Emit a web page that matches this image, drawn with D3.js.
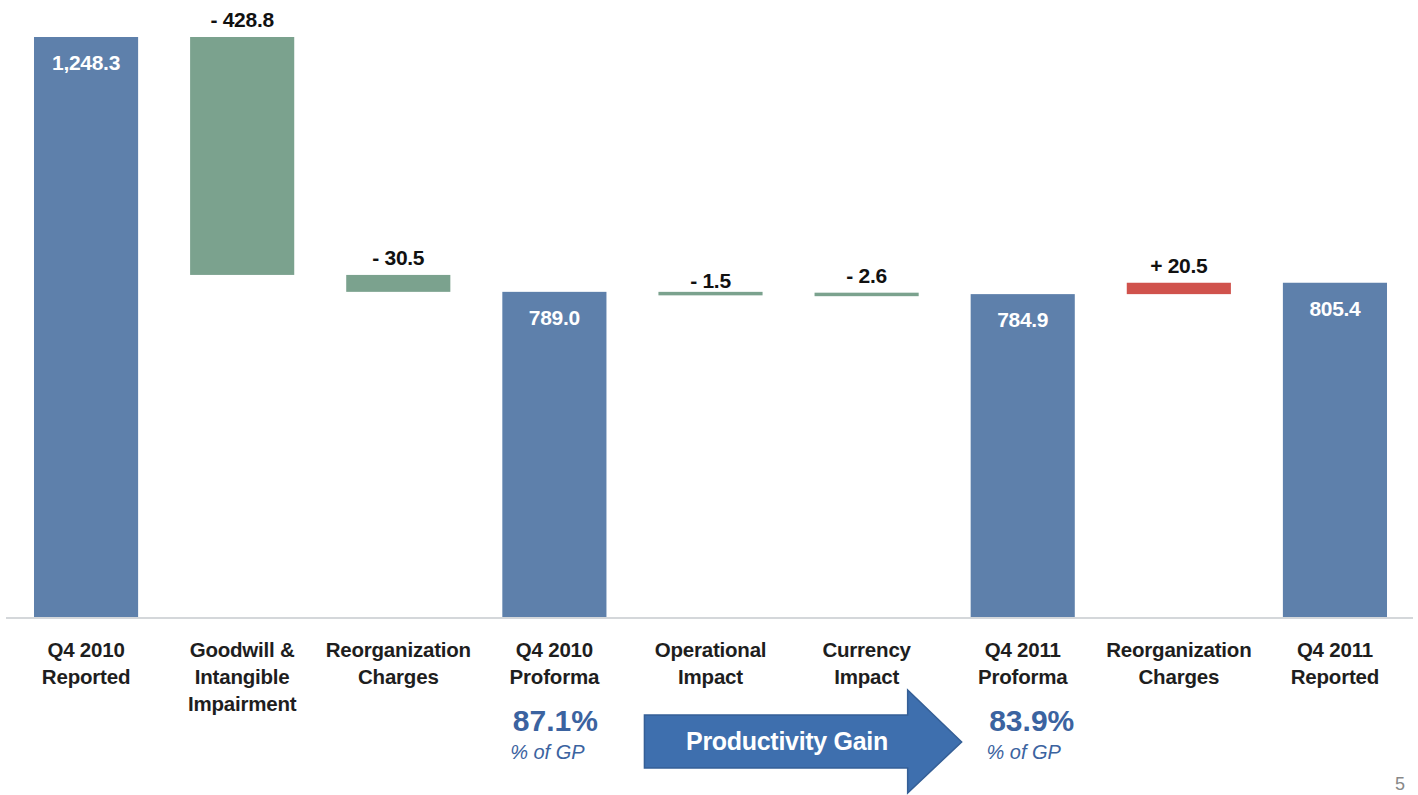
<!DOCTYPE html>
<html><head><meta charset="utf-8">
<script src="https://cdn.jsdelivr.net/npm/d3@7"></script>
<style>
html,body{margin:0;padding:0;background:#fff;}
svg{display:block;}
</style></head>
<body><svg id="chart" width="1418" height="795"></svg>
<script>
// ---- data ----
const categories = [
  ["Q4 2010","Reported"],
  ["Goodwill &","Intangible","Impairment"],
  ["Reorganization","Charges"],
  ["Q4 2010","Proforma"],
  ["Operational","Impact"],
  ["Currency","Impact"],
  ["Q4 2011","Proforma"],
  ["Reorganization","Charges"],
  ["Q4 2011","Reported"]
];
const stepTypes = ["total","delta","delta","total","delta","delta","total","delta","total"];
const stepValues = [1248.3, -428.8, -30.5, 789.0, -1.5, -2.6, 784.9, 20.5, 805.4];
const stepLabels = ["1,248.3","- 428.8","- 30.5","789.0","- 1.5","- 2.6","784.9","+ 20.5","805.4"];
const axisFloor = 203;
const gpPercents = [{cat:3, value:"87.1%", sub:"% of GP"},{cat:6, value:"83.9%", sub:"% of GP"}];
const arrowText = "Productivity Gain";
const pageNumber = "5";

// ---- build waterfall ----
let running = 0;
const bars = stepValues.map((v,i)=>{
  let start, end;
  if (stepTypes[i]==="total"){ start = axisFloor; end = v; running = v; }
  else { start = running; end = running + v; running = end; }
  return {i, type:stepTypes[i], value:v, start, end, label:stepLabels[i]};
});

const svg = d3.select("#chart");
const baseY = 617, topY = 37;
const x = d3.scaleBand().domain(d3.range(categories.length)).range([8,1413]).paddingInner(0.333).paddingOuter(0.1665);
const y = d3.scaleLinear().domain([axisFloor, d3.max(stepValues)]).range([baseY, topY]);

const colors = {total:"#5e80ab", neg:"#7ba28e", pos:"#d0524c"};
const font = "'Liberation Sans',Arial,sans-serif";

// axis line
svg.append("line").attr("x1",6).attr("x2",1413).attr("y1",baseY+1).attr("y2",baseY+1)
  .attr("stroke","#d4d7da").attr("stroke-width",2);

// bars
svg.selectAll("rect.bar").data(bars).join("rect").attr("class","bar")
  .attr("x",d=>x(d.i)).attr("width",x.bandwidth())
  .attr("y",d=>Math.min(y(d.start),y(d.end)))
  .attr("height",d=>Math.max(Math.abs(y(d.start)-y(d.end)), d.type==="delta"?3.5:0))
  .attr("fill",d=>d.type==="total"?colors.total:(d.value<0?colors.neg:colors.pos));

// value labels
svg.selectAll("text.val").data(bars).join("text").attr("class","val")
  .attr("x",d=>x(d.i)+x.bandwidth()/2)
  .attr("y",d=>{
    const top = Math.min(y(d.start),y(d.end));
    return d.type==="total" ? top+33 : top-(Math.abs(d.value)<2?4:10);
  })
  .attr("text-anchor","middle")
  .attr("font-family",font).attr("font-weight","bold").attr("font-size",21)
  .attr("letter-spacing",-0.3)
  .attr("fill",d=>d.type==="total"?"#ffffff":"#111")
  .text(d=>d.label);

// category labels
const cat = svg.selectAll("text.cat").data(categories).join("text").attr("class","cat")
  .attr("x",(d,i)=>x(i)+x.bandwidth()/2).attr("y",657)
  .attr("text-anchor","middle")
  .attr("font-family",font).attr("font-weight","bold").attr("font-size",20.5)
  .attr("letter-spacing",-0.2)
  .attr("fill","#1e1e1e");
cat.selectAll("tspan").data(d=>d).join("tspan")
  .attr("x",function(){return this.parentNode.getAttribute("x");})
  .attr("dy",(d,j)=>j===0?0:27).text(d=>d);

// % of GP
const gpDx = [1, 9];
gpPercents.forEach((g,k)=>{
  const cx = x(g.cat)+x.bandwidth()/2 + gpDx[k];
  svg.append("text").attr("x",cx).attr("y",731).attr("text-anchor","middle")
    .attr("font-family",font).attr("font-weight","bold").attr("font-size",30)
    .attr("fill","#3b63a0").text(g.value);
  svg.append("text").attr("x",cx-8).attr("y",759).attr("text-anchor","middle")
    .attr("font-family",font).attr("font-style","italic").attr("font-size",20)
    .attr("fill","#3b63a0").text(g.sub);
});

// arrow
const ax0 = x(4)-14, ax1 = x(6)-9;
const headW = 54;
const arrowPath = [
  [ax0,715],[ax1-headW,715],[ax1-headW,690],[ax1,742],[ax1-headW,793],[ax1-headW,768],[ax0,768]
];
svg.append("path").attr("d",d3.line()(arrowPath)+"Z")
  .attr("fill","#3e6fae").attr("stroke","#355f96").attr("stroke-width",1.5);
svg.append("text").attr("x",787).attr("y",750).attr("text-anchor","middle")
  .attr("font-family",font).attr("font-weight","bold").attr("font-size",25)
  .attr("letter-spacing",-0.3)
  .attr("fill","#fff").text(arrowText);

// page number
svg.append("text").attr("x",1405).attr("y",790).attr("text-anchor","end")
  .attr("font-family",font).attr("font-size",18).attr("fill","#888").text(pageNumber);
</script></body></html>
